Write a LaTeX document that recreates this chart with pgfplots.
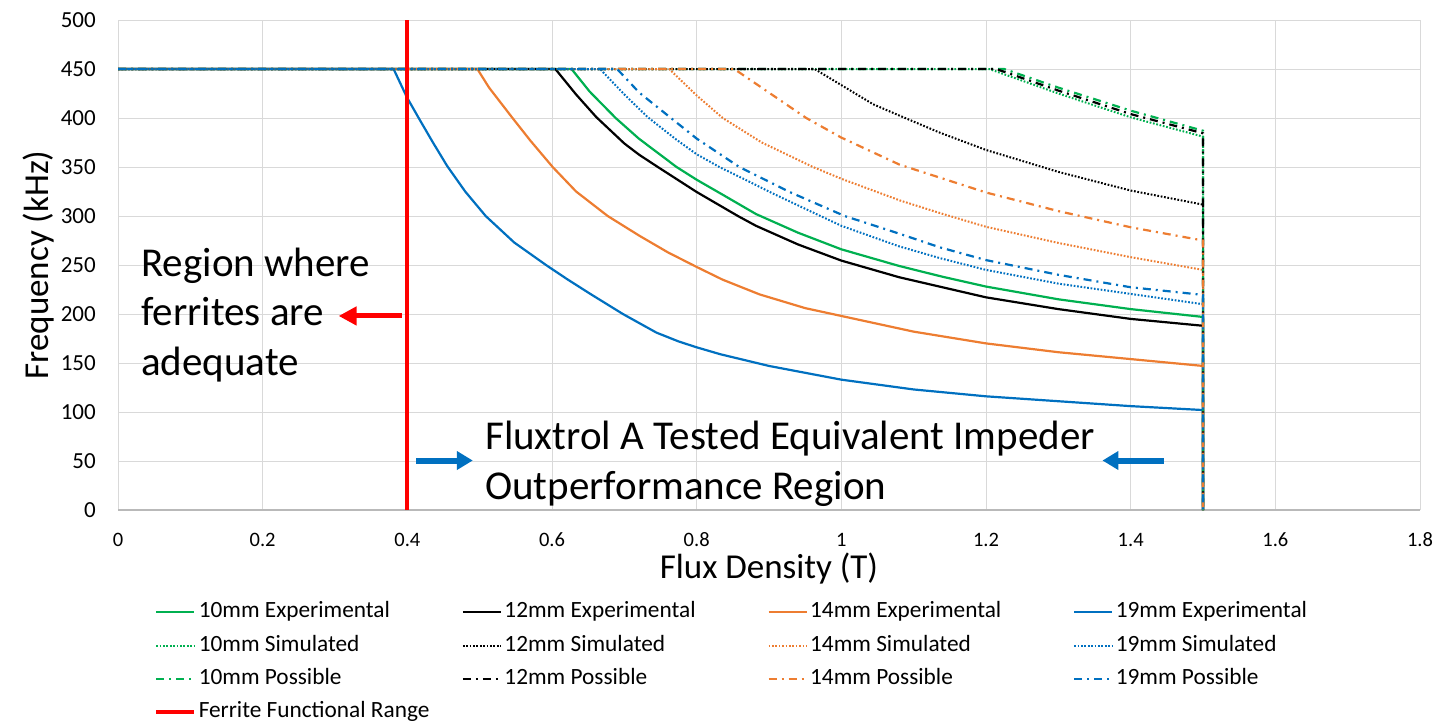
\documentclass[border=0pt]{standalone}
\usepackage{fontspec}
\setmainfont{Carlito}
\usepackage{pgfplots}
\pgfplotsset{compat=1.18}
\usetikzlibrary{arrows.meta}
\definecolor{cgreen}{HTML}{00B050}
\definecolor{corange}{HTML}{ED7D31}
\definecolor{cblue}{HTML}{0070C0}
\definecolor{cred}{HTML}{FF0000}
\definecolor{cgrid}{HTML}{D9D9D9}
\newcommand\lgE[1]{\makebox[263pt][l]{#1}}
\tikzset{
  sol/.style={line width=2.2pt, line join=round},
  dot/.style={line width=2pt, dash pattern=on 1.7pt off 1.7pt},
  dd/.style={line width=2.2pt, dash pattern=on 8pt off 5pt on 2pt off 5pt},
}
\begin{document}
\begin{tikzpicture}
\useasboundingbox (0,0) rectangle (1442pt,721pt);
\begin{axis}[
  at={(118pt,211pt)}, anchor=south west,
  scale only axis, width=1302pt, height=490pt,
  xmin=0, xmax=1.8, ymin=0, ymax=500,
  xtick={0,0.2,0.4,0.6,0.8,1,1.2,1.4,1.6,1.8},
  xticklabels={0,0.2,0.4,0.6,0.8,1,1.2,1.4,1.6,1.8},
  ytick={0,50,100,150,200,250,300,350,400,450,500},
  /pgf/number format/assume math mode=true,
  grid=major, major grid style={draw=cgrid, line width=1pt},
  axis x line=bottom, axis y line=left, axis line style={-},
  x axis line style={draw=gray!55, line width=1.2pt},
  y axis line style={draw=none},
  tick style={draw=none}, major tick length=0pt,
  xticklabel style={font=\fontsize{20.5}{24}\selectfont, anchor=center, inner sep=0pt, yshift=-30pt},
  yticklabel style={font=\fontsize{23}{26}\selectfont, anchor=east, inner sep=0pt, xshift=-22pt},
  xlabel={Flux Density (T)}, ylabel={Frequency (kHz)},
  xlabel style={font=\fontsize{35}{40}\selectfont, at={(axis description cs:0.5,-0.12)}, anchor=center, inner sep=0pt},
  ylabel style={font=\fontsize{35}{40}\selectfont, at={(axis description cs:-0.0614,0.5)}, anchor=center, rotate=0, inner sep=0pt},
  legend columns=4,
  legend style={at={(0.0277,-0.1888)}, anchor=north west, draw=none, fill=none,
    font=\fontsize{23.3}{27}\selectfont, inner sep=0pt, row sep=14.3pt,
    nodes={inner sep=0pt, text height=15pt, text depth=4pt},
    /tikz/every odd column/.append style={column sep=2.5pt}},
  legend cell align=left,
  legend image code/.code={\draw[#1] (0pt,0pt) -- (38pt,0pt);},
]
% 10mm Experimental
\addplot[cgreen, sol] coordinates {(0,450) (0.627,450) (0.652,427) (0.688,400) (0.72,379) (0.7722,350) (0.8,337) (0.84,320) (0.882,302) (0.94,283) (1.0,266) (1.08,249) (1.14,238) (1.2,228) (1.3,215) (1.4,205) (1.5,197) (1.5,0)};
\addlegendentry{\lgE{10mm Experimental}}
% 12mm Experimental
\addplot[black, sol] coordinates {(0,450) (0.6046,450) (0.6333,424) (0.6611,401) (0.70,374) (0.7205,362.5) (0.7463,350) (0.8,324.5) (0.857,300) (0.882,290) (0.94,271) (1.0,254.5) (1.08,237.5) (1.2,217) (1.3,205) (1.4,195) (1.5,188) (1.5,0)};
\addlegendentry{\lgE{12mm Experimental}}
% 14mm Experimental
\addplot[corange, sol] coordinates {(0,450) (0.4968,450) (0.513,431) (0.5454,400) (0.57,377) (0.6009,350) (0.6333,325) (0.677,300) (0.7205,280) (0.76,263) (0.8,248) (0.836,235) (0.887,220) (0.95,206) (1.0,198) (1.1,182) (1.2,170) (1.3,161) (1.4,154) (1.5,147) (1.5,0)};
\addlegendentry{\lgE{14mm Experimental}}
% 19mm Experimental
\addplot[cblue, sol] coordinates {(0,450) (0.381,450) (0.3995,421) (0.4157,400) (0.435,375.5) (0.4551,351) (0.48,325) (0.5083,300) (0.5477,273) (0.5917,250) (0.62,236) (0.6519,221) (0.698,200) (0.7444,181) (0.775,172) (0.8,166) (0.8324,159) (0.9,147) (1.0,133) (1.1,123) (1.2,116) (1.3,111) (1.4,106) (1.5,102) (1.5,0)};
\addlegendentry{\lgE{19mm Experimental}}
% 10mm Simulated
\addplot[cgreen, dot] coordinates {(0,450) (1.2046,450) (1.3,425) (1.4,400.7) (1.5,381) (1.5,0)};
\addlegendentry{\lgE{10mm Simulated}}
% 12mm Simulated
\addplot[black, dot] coordinates {(0,450) (0.963,450) (1.044,414) (1.0805,402.4) (1.1363,385) (1.2,367.4) (1.3,345) (1.4,326) (1.5,311.6) (1.5,0)};
\addlegendentry{\lgE{12mm Simulated}}
% 14mm Simulated
\addplot[corange, dot] coordinates {(0,450) (0.762,450) (0.8,423) (0.836,400) (0.89,375) (0.9608,350) (1.0,338) (1.0805,316) (1.1363,303) (1.2,289) (1.3,272.5) (1.4,258) (1.5,245) (1.5,0)};
\addlegendentry{\lgE{14mm Simulated}}
% 19mm Simulated
\addplot[cblue, dot] coordinates {(0,450) (0.6664,450) (0.70,424) (0.7321,401) (0.77,379) (0.8,363) (0.8314,350) (0.87,336) (0.9053,323) (0.9654,302) (1.0,290) (1.08,269) (1.1363,257) (1.2,245) (1.3,231) (1.4,220.5) (1.5,210) (1.5,0)};
\addlegendentry{\lgE{19mm Simulated}}
% 10mm Possible
\addplot[cgreen, dd] coordinates {(0,450) (1.225,450) (1.3,431) (1.4,407.5) (1.5,387) (1.5,0)};
\addlegendentry{\lgE{10mm Possible}}
% 12mm Possible
\addplot[black, dd] coordinates {(0,450) (1.214,450) (1.3,428) (1.4,404) (1.5,384.4) (1.5,0)};
\addlegendentry{\lgE{12mm Possible}}
% 14mm Possible
\addplot[corange, dd] coordinates {(0,450) (0.852,450) (0.9515,400) (1.0,380) (1.0805,352.4) (1.2,324) (1.3,305) (1.4,288.5) (1.5,275) (1.5,0)};
\addlegendentry{\lgE{14mm Possible}}
% 19mm Possible
\addplot[cblue, dd] coordinates {(0,450) (0.69,450) (0.7205,426) (0.7644,400) (0.8,379) (0.859,350) (0.93,324) (1.0046,300) (1.08,282) (1.1363,268) (1.2,255) (1.3,240) (1.4,227.3) (1.5,219.5) (1.5,0)};
\addlegendentry{\lgE{19mm Possible}}
% Ferrite Functional Range
\addplot[cred, line width=4pt] coordinates {(0.4,0) (0.4,500)};
\addlegendentry{\lgE{Ferrite Functional Range}}

% annotations
\draw[cred, line width=5pt, -{Triangle[length=18pt,width=18pt]}] (axis cs:0.392,198) -- (axis cs:0.305,198);
\draw[cblue, line width=6pt, -{Triangle[length=16pt,width=18pt]}] (axis cs:0.412,50.5) -- (axis cs:0.4905,50.5);
\draw[cblue, line width=6pt, -{Triangle[length=16pt,width=18pt]}] (axis cs:1.446,50.5) -- (axis cs:1.361,50.5);
\node[anchor=west, inner sep=0pt, align=left, font=\fontsize{41}{49.5}\selectfont] at (axis cs:0.032,199) {Region where\\ferrites are\\adequate};
\node[anchor=west, inner sep=0pt, align=left, font=\fontsize{41}{50}\selectfont] at (axis cs:0.5074,47.5) {Fluxtrol A Tested Equivalent Impeder\\Outperformance Region};
\end{axis}
\end{tikzpicture}
\end{document}
